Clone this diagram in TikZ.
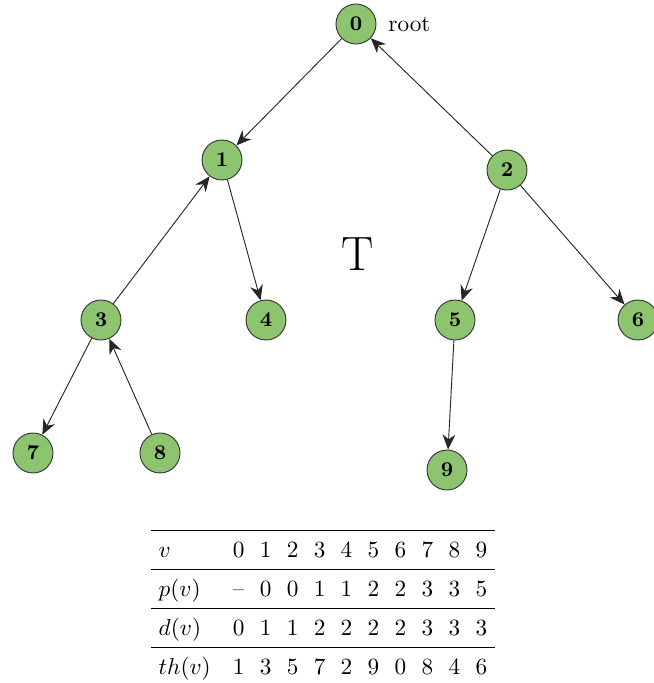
\documentclass[tikz,border=0pt]{standalone}
\usepackage{amsmath}
\usepackage{xcolor}
\usetikzlibrary{arrows.meta, positioning}
\definecolor{leafgreen}{RGB}{140,196,112}

\begin{document}
\begin{tikzpicture}[x=0.43pt, y=-0.43pt,
  vert/.style={circle, draw=black!80, fill=leafgreen, minimum size=17.2pt, inner sep=0pt, font=\small\bfseries},
  arr/.style={-{Stealth[length=6.5pt, width=5.5pt]}, black!85, line width=0.4pt},
]
  \useasboundingbox (0,0) rectangle (653,683);

  % Vertices of T
  \node[vert] (v0) at (356,24) {0};
  \node[vert] (v1) at (222,160) {1};
  \node[vert] (v2) at (507,170) {2};
  \node[vert] (v3) at (101,320) {3};
  \node[vert] (v4) at (266,320) {4};
  \node[vert] (v5) at (455,320) {5};
  \node[vert] (v6) at (638,320) {6};
  \node[vert] (v7) at (33,453) {7};
  \node[vert] (v8) at (160,453) {8};
  \node[vert] (v9) at (447,470) {9};

  % Labels
  \node[anchor=base west, inner sep=0pt] (root) at (388,31) {root};
  \node[anchor=base, font=\huge] (title) at (358,270) {T};

  % Edges
  \draw[arr] (v0) -- (v1);
  \draw[arr] (v2) -- (v0);
  \draw[arr] (v1) -- (v4);
  \draw[arr] (v3) -- (v1);
  \draw[arr] (v2) -- (v5);
  \draw[arr] (v2) -- (v6);
  \draw[arr] (v3) -- (v7);
  \draw[arr] (v8) -- (v3);
  \draw[arr] (v5) -- (v9);

  % Table
  \node[anchor=north, inner sep=0pt] (tab) at (323,530) {%
    \setlength{\tabcolsep}{3.3pt}\renewcommand{\arraystretch}{1.36}%
    \begin{tabular}{l@{\hspace{9.5pt}}*{10}{c}}
      \hline
      $v$ & 0 & 1 & 2 & 3 & 4 & 5 & 6 & 7 & 8 & 9 \\ \hline
      $p(v)$ & -- & 0 & 0 & 1 & 1 & 2 & 2 & 3 & 3 & 5 \\ \hline
      $d(v)$ & 0 & 1 & 1 & 2 & 2 & 2 & 2 & 3 & 3 & 3 \\ \hline
      $th(v)$ & 1 & 3 & 5 & 7 & 2 & 9 & 0 & 8 & 4 & 6
    \end{tabular}};
\end{tikzpicture}
\end{document}
